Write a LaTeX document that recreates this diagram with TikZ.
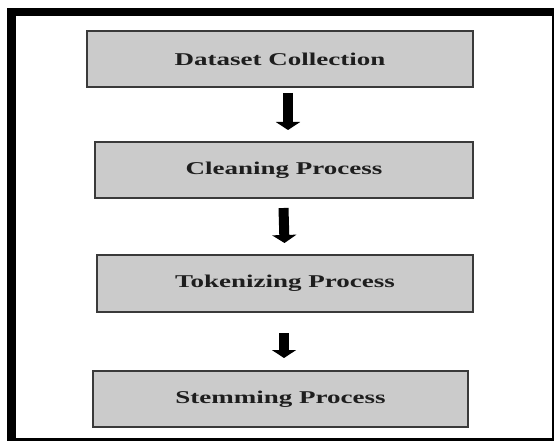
\documentclass[tikz,border=0pt]{standalone}
\usepackage{graphicx}
\usepackage{fontspec}
\setmainfont{Liberation Serif}
\usetikzlibrary{arrows.meta}
\definecolor{boxfill}{HTML}{CBCBCB}
\definecolor{boxline}{HTML}{3A3A3A}
\definecolor{txt}{HTML}{1E1E1E}
\newcommand{\steptext}[1]{\scalebox{1.5}[1]{\fontsize{18}{20}\selectfont\bfseries #1}}
\tikzset{
  stepbox/.style={draw=boxline, line width=2pt, fill=boxfill, text=txt, inner sep=0pt, anchor=center},
  blockarrow/.style={draw=black, line width=10pt, -{Triangle[width=24pt,length=8pt]}}
}
\begin{document}
\begin{tikzpicture}[x=1pt,y=-1pt]
\useasboundingbox (0,0) rectangle (554,441);
% frame
\fill[black] (7,8) rectangle (554,16);
\fill[black] (7,8) rectangle (16,441);
\fill[black] (7,438) rectangle (554,441);
\fill[black] (552,8) rectangle (554,441);
% boxes
\node[stepbox, minimum width=386pt, minimum height=56pt] (b1) at (280,59) {\steptext{Dataset Collection}};
\node[stepbox, minimum width=378pt, minimum height=56pt] (b2) at (284,170) {\steptext{Cleaning Process}};
\node[stepbox, minimum width=376pt, minimum height=57pt] (b3) at (285,283.5) {\steptext{Tokenizing Process}};
\node[stepbox, minimum width=375pt, minimum height=56pt] (b4) at (280.5,399) {\steptext{Stemming Process}};
% arrows
\draw[blockarrow] ([xshift=8pt,yshift=-5pt]b1.south) -- ([xshift=4pt,yshift=11pt]b2.north);
\draw[blockarrow] ([xshift=-0.5pt,yshift=-9pt]b2.south) -- ([xshift=-0.5pt,yshift=11pt]b3.north);
\draw[blockarrow] ([xshift=-1pt,yshift=-20pt]b3.south) -- ([xshift=3.5pt,yshift=12pt]b4.north);
\end{tikzpicture}
\end{document}
